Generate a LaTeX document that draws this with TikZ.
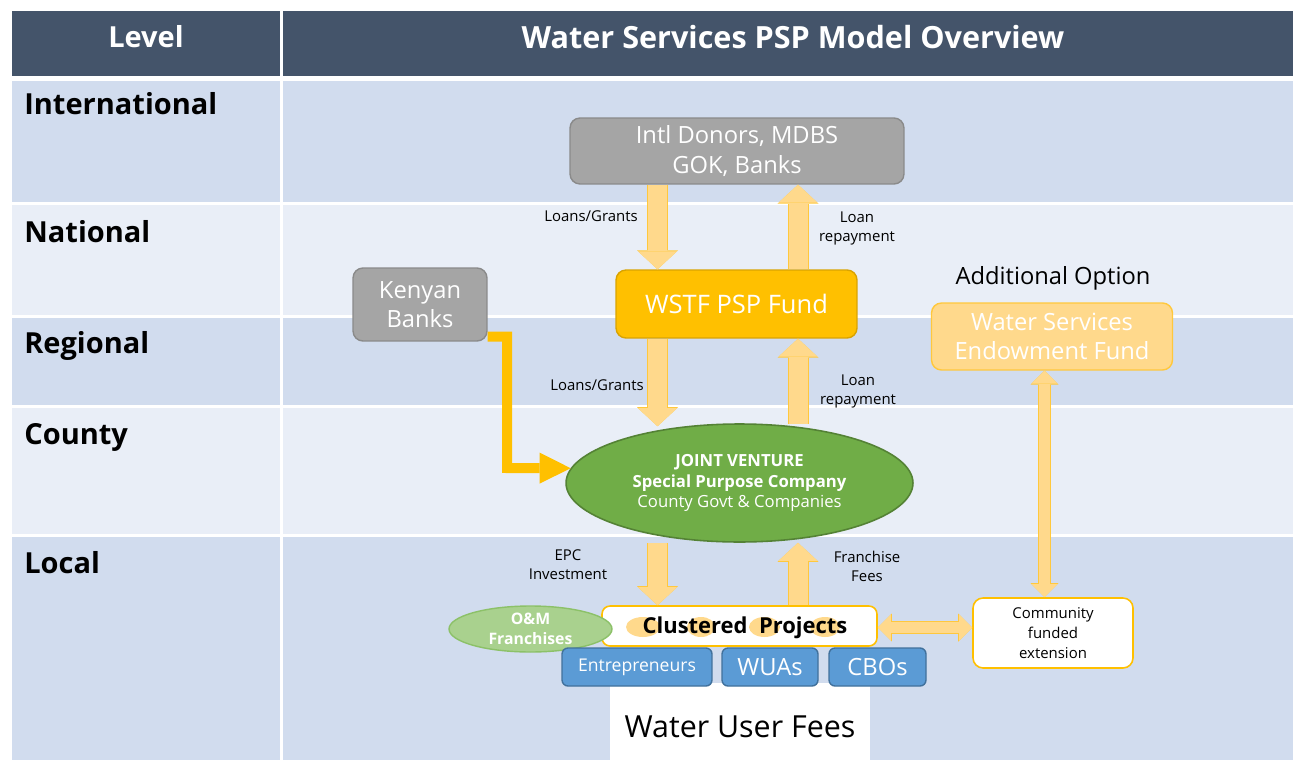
\documentclass[tikz,border=0pt]{standalone}
\usepackage{fontspec}
\setmainfont{Open Sans}
\usetikzlibrary{arrows.meta,shapes.geometric,positioning}

\definecolor{headblue}{HTML}{44546A}
\definecolor{rowdark}{HTML}{D1DCEE}
\definecolor{rowlight}{HTML}{E9EEF7}
\definecolor{boxgray}{HTML}{A5A5A5}
\definecolor{boxgrayline}{HTML}{8A8A8A}
\definecolor{fundgold}{HTML}{FFC000}
\definecolor{fundline}{HTML}{D9A300}
\definecolor{palegold}{HTML}{FFD98C}
\definecolor{palegoldline}{HTML}{FFC83D}
\definecolor{jvgreen}{HTML}{70AD47}
\definecolor{jvline}{HTML}{548235}
\definecolor{lightgreen}{HTML}{A9D18E}
\definecolor{lightgreenline}{HTML}{8CC168}
\definecolor{userblue}{HTML}{5B9BD5}
\definecolor{userblueline}{HTML}{41719C}

\tikzset{
  levellbl/.style={anchor=base west, inner sep=0pt, font=\fontsize{16.5}{19}\selectfont\bfseries},
  headlbl/.style={text=white, font=\fontsize{16.5}{19}\selectfont\bfseries},
  graybox/.style={rectangle, rounded corners=0.2cm, fill=boxgray, draw=boxgrayline,
    line width=0.8pt, text=white, align=center, inner sep=0pt,
    font=\fontsize{13.5}{16.6}\selectfont},
  fundbox/.style={graybox, fill=fundgold, draw=fundline, font=\fontsize{14.5}{17}\selectfont},
  endowbox/.style={graybox, fill=palegold, draw=palegoldline},
  whitebox/.style={rectangle, rounded corners=0.2cm, fill=white, draw=fundgold,
    line width=0.9pt, align=center, inner sep=0pt},
  userbox/.style={rectangle, rounded corners=0.12cm, fill=userblue, draw=userblueline,
    line width=0.8pt, text=white, inner sep=0pt, minimum height=0.76cm},
  smalllbl/.style={align=center, font=\fontsize{8.5}{10.8}\selectfont},
  flow/.style={draw=palegold, line width=0.38cm,
    -{Triangle[length=0.36cm,width=0.78cm,line width=0pt]},
    preaction={draw=palegoldline, line width=0.42cm,
      -{Triangle[length=0.38cm,width=0.82cm,line width=0pt]}}},
  twoway/.style={draw=palegold, line width=0.22cm,
    {Triangle[length=0.26cm,width=0.52cm,line width=0pt]}-{Triangle[length=0.26cm,width=0.52cm,line width=0pt]},
    preaction={draw=palegoldline, line width=0.26cm,
      {Triangle[length=0.28cm,width=0.56cm,line width=0pt]}-{Triangle[length=0.28cm,width=0.56cm,line width=0pt]}}},
  bankflow/.style={draw=fundgold, line width=0.2cm, line join=miter,
    -{Triangle[length=0.62cm,width=0.62cm,line width=0pt]}}
}

\begin{document}
\begin{tikzpicture}[x=0.02cm,y=-0.02cm,line cap=butt]

\useasboundingbox (0,0) rectangle (1293,760);
\fill[white] (0,0) rectangle (1293,760);

% header
\fill[headblue] (12,11) rectangle (280,76);
\fill[headblue] (283,11) rectangle (1293,76);
\node[headlbl] (hlevel) at (146,37) {Level};
\node[headlbl, font=\fontsize{17.4}{20}\selectfont\bfseries] (htitle) at (793,37) {Water Services PSP Model Overview};

% level bands
\foreach \top/\bot/\col in {81/202/rowdark,205/315/rowlight,318/405/rowdark,408/534/rowlight,537/760/rowdark}{
  \fill[\col] (12,\top) rectangle (280,\bot);
  \fill[\col] (283,\top) rectangle (1293,\bot);
}
\foreach \nm/\txt/\base in {lintl/International/115,lnat/National/242,lreg/Regional/353,lcty/County/444,lloc/Local/573}
  \node[levellbl] (\nm) at (24,\base) {\txt};

% funding bodies
\node[graybox, minimum width=6.68cm, minimum height=1.32cm] (intl) at (737,151) {Intl Donors, MDBS\\GOK, Banks};
\node[fundbox, minimum width=4.82cm, minimum height=1.36cm] (wstf) at (736.5,304) {WSTF PSP Fund};
\node[graybox, minimum width=2.68cm, minimum height=1.46cm] (banks) at (420,304.5) {Kenyan\\Banks};
\node[font=\fontsize{13.5}{16}\selectfont] (addopt) at (1053,278) {Additional Option};
\node[endowbox, minimum width=4.82cm, minimum height=1.34cm] (endow) at (1052,336.5) {Water Services\\Endowment Fund};

% joint venture
\node[ellipse, fill=jvgreen, draw=jvline, line width=0.9pt, minimum width=6.94cm, minimum height=2.36cm,
  inner sep=0pt, text=white, align=center, font=\fontsize{9.5}{11.6}\selectfont] (jv) at (739.5,483)
  {\textbf{JOINT VENTURE}\\\textbf{Special Purpose Company}\\County Govt \& Companies};

% local level
\node[rectangle, fill=white, minimum width=5.2cm, minimum height=1.54cm, inner sep=0pt, anchor=north] (fees) at (740,683) {};
\node[font=\fontsize{17.3}{20}\selectfont] (feestext) at (740,727) {Water User Fees};
\node[whitebox, rounded corners=0.16cm, minimum width=5.5cm, minimum height=0.8cm] (clustered) at (739.5,626) {};
\foreach \cx/\rx in {643/17,701/14,764.5/15.5,825/15}
  \fill[palegold] (\cx,627) ellipse [x radius=\rx*0.02cm, y radius=0.2cm];
\node[font=\fontsize{12.5}{15}\selectfont\bfseries] (cltext) at (745,628) {Clustered\ \ Projects};
\node[ellipse, fill=lightgreen, draw=lightgreenline, line width=0.8pt, minimum width=3.26cm, minimum height=0.92cm,
  inner sep=0pt, text=white, align=center, font=\fontsize{9}{11.5}\selectfont\bfseries] (om) at (530.5,629) {O\&M\\Franchises};
\node[userbox, minimum width=3.0cm, font=\fontsize{10}{12}\selectfont] (entre) at (637,667) {Entrepreneurs};
\node[userbox, minimum width=1.92cm, font=\fontsize{13.5}{16}\selectfont] (wuas) at (770,667) {WUAs};
\node[userbox, minimum width=1.94cm, font=\fontsize{13.5}{16}\selectfont] (cbos) at (877.5,667) {CBOs};
\node[whitebox, minimum width=3.2cm, minimum height=1.4cm, font=\fontsize{8.5}{11.6}\selectfont] (comm) at (1053,633)
  {Community\\funded\\extension};

% money flows
\draw[flow] (intl.south -| 657.5,0) -- (wstf.north -| 657.5,0);
\draw[flow] (wstf.north -| 798,0) -- (intl.south -| 798,0);
\draw[flow] (wstf.south -| 657.5,0) -- ([yshift=-0.06cm]jv.north -| 657.5,0);
\draw[flow] ([yshift=-0.02cm]jv.north -| 798,0) -- (wstf.south -| 798,0);
\draw[flow] (jv.south -| 657.5,0) -- (clustered.north -| 657.5,0);
\draw[flow] (clustered.north -| 798,0) -- (jv.south -| 798,0);
\draw[twoway] (clustered.east |- 0,627.5) -- (comm.west |- 0,627.5);
\draw[twoway] (endow.south -| 1044.5,0) -- (comm.north -| 1044.5,0);
\coordinate (bankbend) at (507,468);
\draw[bankflow] ([yshift=0.1cm]banks.south east) -| (bankbend) -- (jv.175);

% flow labels
\node[smalllbl] (lg1) at (591,216) {Loans/Grants};
\node[smalllbl] (lr1) at (857,228.5) {Loan\\repayment};
\node[smalllbl] (lg2) at (597,385) {Loans/Grants};
\node[smalllbl] (lr2) at (858,391) {Loan\\repayment};
\node[smalllbl] (epc) at (568,565) {EPC\\Investment};
\node[smalllbl] (ffee) at (867,566.5) {Franchise\\Fees};

\end{tikzpicture}
\end{document}
